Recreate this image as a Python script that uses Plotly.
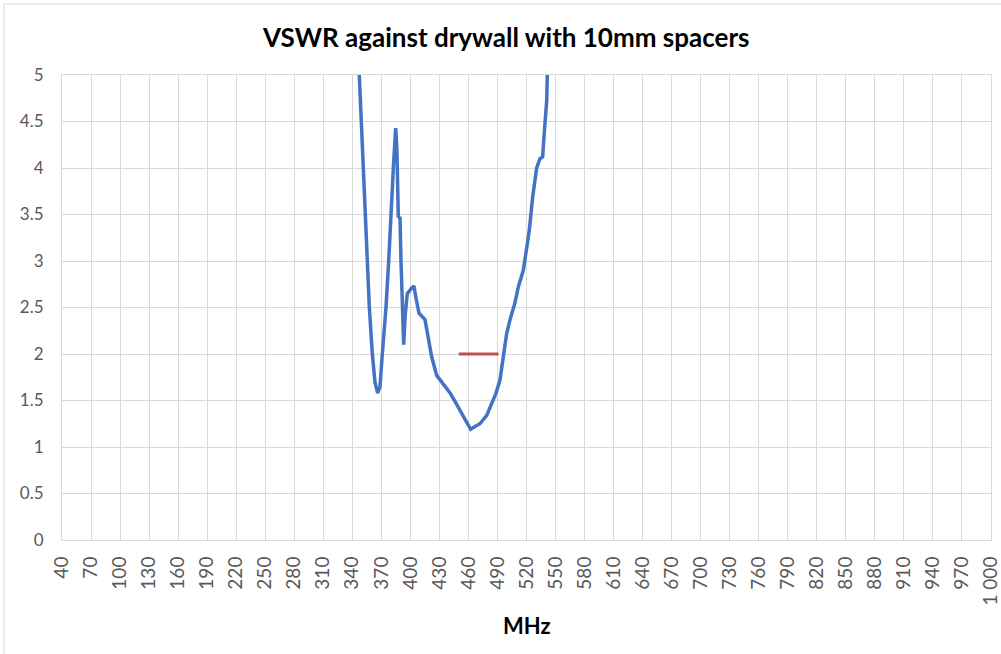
import plotly.graph_objects as go

freq_mhz = [343.0, 347.2, 349.3, 351.4, 353.8, 355.9, 357.6, 360.7, 363.4, 366.2, 368.6,
            371.0, 374.8, 377.6, 379.7, 382.4, 384.8, 386.1, 387.5, 389.3, 390.3,
            391.7, 393.1, 394.5, 396.8, 401.4, 403.7, 405.8, 408.9, 415.1, 418.5,
            422.0, 427.2, 432.4, 441.0, 446.1, 453.0, 457.5, 462.3, 466.8, 471.9,
            478.9, 484.0, 488.5, 492.6, 495.4, 499.5, 503.0, 508.1, 511.5, 516.7,
            520.2, 522.9, 526.4, 528.8, 530.5, 533.9, 536.7, 538.1, 539.1, 540.9,
            541.5, 543.0]
vswr = [5.5, 5.0, 4.5, 4.0, 3.5, 3.0, 2.5, 2.0, 1.7, 1.58, 1.65,
        2.0, 2.5, 3.0, 3.5, 4.0, 4.43, 4.2, 3.48, 3.46, 3.0,
        2.5, 2.10, 2.4, 2.65, 2.71, 2.73, 2.6, 2.44, 2.37, 2.19,
        1.97, 1.77, 1.70, 1.58, 1.49, 1.36, 1.27, 1.19, 1.22, 1.25,
        1.34, 1.47, 1.58, 1.72, 1.94, 2.22, 2.37, 2.55, 2.72, 2.90,
        3.14, 3.33, 3.69, 3.91, 4.0, 4.10, 4.12, 4.34, 4.5, 4.73,
        5.0, 5.5]

# Target band marker at VSWR = 2
band_mhz = [450, 491]
band_vswr = [2, 2]

# Axis ticks
x_tick_vals = list(range(40, 1001, 30))
x_tick_text = [("1 000" if v == 1000 else str(v)) for v in x_tick_vals]
y_tick_vals = [0, 0.5, 1, 1.5, 2, 2.5, 3, 3.5, 4, 4.5, 5]

FONT = "Lato"
GRID = "#d9d9d9"
TICKC = "#595959"

fig = go.Figure()
fig.add_trace(go.Scatter(x=freq_mhz, y=vswr, mode="lines",
                         line=dict(color="#4472C4", width=3.5, shape="linear"),
                         showlegend=False, cliponaxis=True))
fig.add_trace(go.Scatter(x=band_mhz, y=band_vswr, mode="lines",
                         line=dict(color="#C0504D", width=3),
                         showlegend=False))

fig.update_layout(
    width=1001, height=654,
    margin=dict(l=62, r=10, t=75, b=114, autoexpand=False),
    paper_bgcolor="white", plot_bgcolor="white",
    font=dict(family=FONT, color=TICKC),
    xaxis=dict(range=[40, 1000], tickmode="array", tickvals=x_tick_vals,
               ticktext=x_tick_text, tickangle=-90,
               tickfont=dict(family=FONT, size=19, color=TICKC),
               showgrid=True, gridcolor=GRID, gridwidth=1,
               showline=True, linecolor=GRID, linewidth=1, mirror=True,
               zeroline=False, ticks="", ticklabelstandoff=8,
               ticklabeloverflow="allow", automargin=False),
    yaxis=dict(range=[0, 5], tickmode="array", tickvals=y_tick_vals,
               tickfont=dict(family=FONT, size=17, color=TICKC),
               showgrid=True, gridcolor=GRID, gridwidth=1,
               showline=True, linecolor=GRID, linewidth=1, mirror=True,
               zeroline=False, ticks="", ticklabelstandoff=14,
               automargin=False),
    annotations=[
        dict(text="<b>VSWR against drywall with 10mm spacers</b>",
             x=(505 - 62) / 929, y=(540 - 37) / 465, xref="paper", yref="paper",
             xanchor="center", yanchor="middle", showarrow=False,
             font=dict(family=FONT, size=26, color="#000000")),
        dict(text="<b>MHz</b>", x=0.5, y=(540 - 625) / 465,
             xref="paper", yref="paper", xanchor="center",
             yanchor="middle", showarrow=False,
             font=dict(family=FONT, size=22, color="#000000")),
    ],
    shapes=[dict(type="rect", xref="paper", yref="paper",
                 x0=(4 - 62) / 929, x1=1.2, y0=-0.5, y1=(540 - 4) / 465,
                 line=dict(color=GRID, width=1), fillcolor="rgba(0,0,0,0)",
                 layer="below")],
)

fig.write_html("out.html",
               config={"displayModeBar": False},
               post_script="document.body.style.margin='0';"
                           "document.body.style.overflow='hidden';")
